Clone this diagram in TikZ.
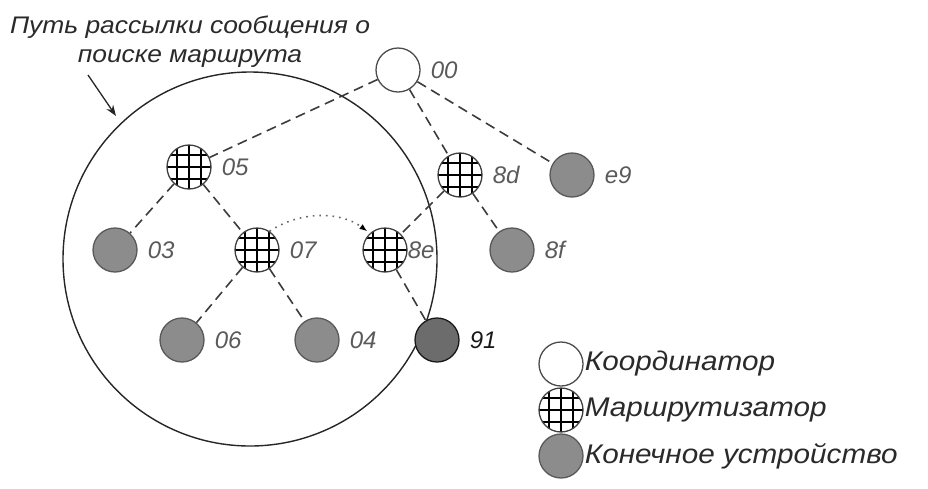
\documentclass[tikz,border=0pt]{standalone}
\usepackage{fontspec}
\setmainfont{Liberation Sans}
\newfontfamily\widefont[FakeStretch=1.1]{Liberation Sans}
\usetikzlibrary{arrows.meta}
\definecolor{lblgray}{HTML}{5A5A5A}
\definecolor{txtdark}{HTML}{2A2A2A}
\definecolor{linegray}{HTML}{3C3C3C}
\definecolor{endfill}{HTML}{8C8C8C}
\definecolor{endfilldark}{HTML}{6C6C6C}
\begin{document}
\begin{tikzpicture}[x=1pt,y=-1pt,
  base/.style={circle, inner sep=0pt, minimum size=44pt, line width=1.3pt},
  coord/.style={base, draw=black!70, fill=white},
  router/.style={base, draw=black!75, fill=white,
    path picture={
      \foreach \d in {-12,0,12}{
        \draw[black, line width=1.1pt, shift={(path picture bounding box.center)}] (\d,-30) -- (\d,30);
        \draw[black, line width=1.1pt, shift={(path picture bounding box.center)}] (-30,\d) -- (30,\d);
      }}},
  enddev/.style={base, draw=black!65, fill=endfill},
  enddevdark/.style={base, draw=black!90, fill=endfilldark},
  lbl/.style={anchor=west, inner sep=0pt, text=lblgray, font=\fontsize{24}{27}\selectfont\itshape},
  legtext/.style={anchor=west, inner sep=0pt, text=txtdark, font=\widefont\fontsize{27}{30}\selectfont\itshape},
  conn/.style={draw=linegray, line width=1.6pt, dash pattern=on 10pt off 6pt},
]
\useasboundingbox (0,0) rectangle (928,488);

% search area
\node[circle, draw=black!85, line width=1.4pt, minimum size=374pt, inner sep=0pt] (area) at (250,259) {};

% nodes
\node[coord]  (n00) at (398,70) {};
\node[router] (n05) at (189,167) {};
\node[router] (n8d) at (460,175) {};
\node[enddev] (ne9) at (572,175) {};
\node[enddev] (n03) at (115,250) {};
\node[router] (n07) at (257,250) {};
\node[router] (n8e) at (385,250) {};
\node[enddev] (n8f) at (512,250) {};
\node[enddev] (n06) at (182,340) {};
\node[enddev] (n04) at (317,340) {};
\node[enddevdark] (n91) at (437,340) {};

% connectors
\draw[conn] (n00) -- (n05);
\draw[conn] (n00) -- (n8d);
\draw[conn] (n00) -- (ne9);
\draw[conn] (n05) -- (n03);
\draw[conn] (n05) -- (n07);
\draw[conn] (n07) -- (n06);
\draw[conn] (n07) -- (n04);
\draw[conn] (n8d) -- (n8e);
\draw[conn] (n8d) -- (n8f);
\draw[conn] (n8e) -- (n91);

% route discovery arrow
\draw[black!60, line width=1.6pt, dash pattern=on 1.6pt off 5pt, -{Latex[length=8pt,width=6pt,black]}, shorten >=3pt]
  (n07.56) .. controls (300,211) and (340,211) .. (n8e.132);

% labels
\node[lbl] (l00) at ([xshift=10pt]n00.east) {00};
\node[lbl] (l05) at ([xshift=10pt]n05.east) {05};
\node[lbl] (l8d) at ([xshift=10pt]n8d.east) {8d};
\node[lbl] (le9) at ([xshift=10pt]ne9.east) {e9};
\node[lbl] (l03) at ([xshift=10pt]n03.east) {03};
\node[lbl] (l07) at ([xshift=10pt]n07.east) {07};
\node[lbl] (l8e) at ([xshift=0pt]n8e.east) {8e};
\node[lbl] (l8f) at ([xshift=10pt]n8f.east) {8f};
\node[lbl] (l06) at ([xshift=10pt]n06.east) {06};
\node[lbl] (l04) at ([xshift=10pt]n04.east) {04};
\node[lbl, text=black!90] (l91) at ([xshift=10pt]n91.east) {91};

% caption
\node[align=center, inner sep=0pt, text=txtdark, font=\widefont\fontsize{24}{29}\selectfont\itshape] (cap) at (190,42)
  {Путь рассылки сообщения о\\поиске маршрута};
\coordinate (arrs) at (88,75);
\coordinate (arre) at (116,116);
\draw[black!85, line width=1.3pt, -{Stealth[length=11pt,width=8pt]}] (arrs) -- (arre);

% legend
\node[coord]  (lg1) at (561,364) {};
\node[router] (lg2) at (561,410) {};
\node[enddev] (lg3) at (561,456) {};
\node[legtext] (lt1) at ([xshift=1pt]lg1.east) {Координатор};
\node[legtext] (lt2) at ([xshift=1pt]lg2.east) {Маршрутизатор};
\node[legtext] (lt3) at ([xshift=1pt]lg3.east) {Конечное устройство};
\end{tikzpicture}
\end{document}
